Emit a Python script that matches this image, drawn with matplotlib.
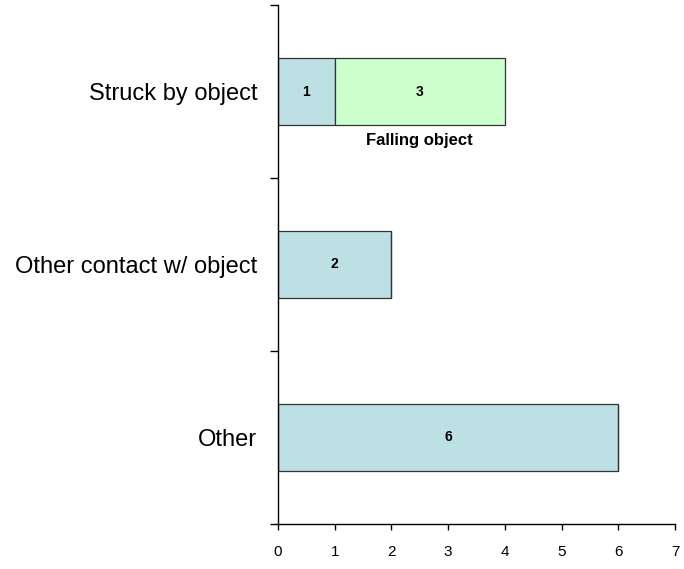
import matplotlib.pyplot as plt

plt.rcParams['font.family'] = ['Liberation Sans', 'DejaVu Sans']

categories = ['Other', 'Other contact w/ object', 'Struck by object']
base_values = [6, 2, 1]
falling_values = [0, 0, 3]
falling_label = 'Falling object'

fig = plt.figure(figsize=(6.84, 5.69), dpi=100)
ax = fig.add_axes([0.4064, 0.0791, 0.5804, 0.9121])

pos = list(range(len(categories)))
bars_a = ax.barh(pos, base_values, height=0.39, color='#BDE0E4', edgecolor='#333333', linewidth=0.9)
bars_b = ax.barh(pos, falling_values, left=base_values, height=0.39, color='#CCFFCC', edgecolor='#333333', linewidth=0.9)

# value labels in the middle of each segment
for b, v in zip(bars_a, base_values):
    if v:
        ax.text(b.get_x() + b.get_width() / 2, b.get_y() + b.get_height() / 2, str(v),
                ha='center', va='center', fontsize=10, fontweight='bold')
for b, v in zip(bars_b, falling_values):
    if v:
        ax.text(b.get_x() + b.get_width() / 2, b.get_y() + b.get_height() / 2, str(v),
                ha='center', va='center', fontsize=10, fontweight='bold')
        ax.text(b.get_x() + b.get_width() / 2, b.get_y() - 0.045, falling_label,
                ha='center', va='top', fontsize=12, fontweight='bold')

ax.set_xlim(0, 7)
ax.set_ylim(-0.5, 2.5)
ax.set_xticks(range(8))
ax.tick_params(axis='x', direction='out', length=4, labelsize=11, pad=11, width=1)
ax.set_yticks(pos)
ax.set_yticklabels(categories, fontsize=17)
ax.tick_params(axis='y', length=0, pad=15)
# minor ticks between categories
ax.set_yticks([-0.5, 0.5, 1.5, 2.5], minor=True)
ax.tick_params(axis='y', which='minor', direction='out', length=6, width=1)

for s in ['top', 'right']:
    ax.spines[s].set_visible(False)
for s in ['left', 'bottom']:
    ax.spines[s].set_color('#000000')
    ax.spines[s].set_linewidth(1)

fig.savefig('out.png', dpi=100)
